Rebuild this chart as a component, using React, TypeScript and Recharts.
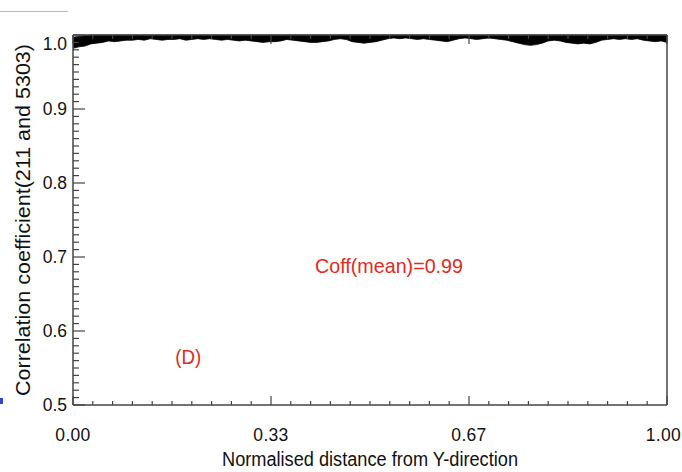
import React from 'react';
import { ComposedChart, Area, XAxis, YAxis, ReferenceDot, Label } from 'recharts';

// normalised distance along the Y-direction
const distance = [
  0.0, 0.01, 0.02, 0.03, 0.04, 0.05, 0.06, 0.07, 0.08, 0.09,
  0.1, 0.11, 0.12, 0.13, 0.14, 0.15, 0.16, 0.17, 0.18, 0.19,
  0.2, 0.21, 0.22, 0.23, 0.24, 0.25, 0.26, 0.27, 0.28, 0.29,
  0.3, 0.31, 0.32, 0.33, 0.34, 0.35, 0.36, 0.37, 0.38, 0.39,
  0.4, 0.41, 0.42, 0.43, 0.44, 0.45, 0.46, 0.47, 0.48, 0.49,
  0.5, 0.51, 0.52, 0.53, 0.54, 0.55, 0.56, 0.57, 0.58, 0.59,
  0.6, 0.61, 0.62, 0.63, 0.64, 0.65, 0.66, 0.67, 0.68, 0.69,
  0.7, 0.71, 0.72, 0.73, 0.74, 0.75, 0.76, 0.77, 0.78, 0.79,
  0.8, 0.81, 0.82, 0.83, 0.84, 0.85, 0.86, 0.87, 0.88, 0.89,
  0.9, 0.91, 0.92, 0.93, 0.94, 0.95, 0.96, 0.97, 0.98, 0.99,
  1.0,
];

// lower / upper edge of the scattered coefficient band
const coeffLow = [
  0.982, 0.984, 0.985, 0.988, 0.989, 0.99, 0.992, 0.991, 0.992, 0.993,
  0.993, 0.994, 0.993, 0.995, 0.994, 0.993, 0.994, 0.994, 0.995, 0.993,
  0.994, 0.995, 0.994, 0.995, 0.994, 0.993, 0.994, 0.993, 0.992, 0.993,
  0.992, 0.991, 0.99, 0.991, 0.991, 0.992, 0.994, 0.993, 0.992, 0.991,
  0.99, 0.99, 0.991, 0.992, 0.994, 0.995, 0.994, 0.991, 0.99, 0.989,
  0.99, 0.991, 0.993, 0.995, 0.996, 0.995, 0.996, 0.995, 0.994, 0.995,
  0.994, 0.993, 0.992, 0.991, 0.993, 0.995, 0.996, 0.995, 0.994, 0.995,
  0.996, 0.995, 0.994, 0.993, 0.991, 0.989, 0.987, 0.986, 0.987, 0.989,
  0.992, 0.993, 0.992, 0.99, 0.989, 0.988, 0.989, 0.988, 0.99, 0.993,
  0.994, 0.995, 0.994, 0.995, 0.994, 0.995, 0.993, 0.992, 0.991, 0.992,
  0.99,
];
const coeffHigh = [
  0.997, 0.998, 0.999, 1.0, 1.0, 1.0, 1.0, 1.0, 1.0, 1.0,
  1.0, 1.0, 1.0, 1.0, 1.0, 1.0, 1.0, 1.0, 1.0, 1.0,
  1.0, 1.0, 1.0, 1.0, 1.0, 1.0, 1.0, 1.0, 1.0, 1.0,
  1.0, 1.0, 1.0, 1.0, 1.0, 1.0, 1.0, 1.0, 1.0, 1.0,
  1.0, 1.0, 1.0, 1.0, 1.0, 1.0, 1.0, 1.0, 1.0, 1.0,
  1.0, 1.0, 1.0, 1.0, 1.0, 1.0, 1.0, 1.0, 1.0, 1.0,
  1.0, 1.0, 1.0, 1.0, 1.0, 1.0, 1.0, 1.0, 1.0, 1.0,
  1.0, 1.0, 1.0, 1.0, 1.0, 1.0, 1.0, 1.0, 1.0, 1.0,
  1.0, 1.0, 1.0, 1.0, 1.0, 1.0, 1.0, 1.0, 1.0, 1.0,
  1.0, 1.0, 1.0, 1.0, 1.0, 1.0, 1.0, 1.0, 1.0, 1.0,
  1.0,
];

const xMajor = [0, 1 / 3, 2 / 3, 1];
const xMajorLabels = ['0.00', '0.33', '0.67', '1.00'];
const yMajor = [0.5, 0.6, 0.7, 0.8, 0.9, 1.0];
const yMajorLabels = ['0.5', '0.6', '0.7', '0.8', '0.9', '1.0'];

const xTicks: number[] = [];
for (let i = 0; i <= 30; i++) xTicks.push(i / 30);
const yTicks: number[] = [];
for (let i = 0; i <= 50; i++) yTicks.push(0.5 + i / 100);

const data = distance.map((d, i) => ({ d, band: [coeffLow[i], coeffHigh[i]] }));

const AXIS = '#444';
const RED = '#e02a22';
const FONT = '"Liberation Sans", Arial, sans-serif';

const majorIdx = (list: number[], v: number) => list.findIndex((m) => Math.abs(m - v) < 1e-6);

const LeftTick = (props: any) => {
  const { x, y, payload } = props;
  const k = majorIdx(yMajor, payload.value);
  const len = k >= 0 ? 12 : 6;
  return (
    <g>
      <line x1={x} x2={x + len} y1={y} y2={y} stroke={AXIS} strokeWidth={1.2} />
      {k >= 0 && (
        <text x={x - 6} y={y + (k === yMajor.length - 1 ? 9 : 0)} dy={6} textAnchor="end"
          fontSize={17.5} fontFamily={FONT} fill="#111">
          {yMajorLabels[k]}
        </text>
      )}
    </g>
  );
};

const RightTick = (props: any) => {
  const { x, y, payload } = props;
  const len = majorIdx(yMajor, payload.value) >= 0 ? 12 : 6;
  return <line x1={x} x2={x - len} y1={y} y2={y} stroke={AXIS} strokeWidth={1.2} />;
};

const BottomTick = (props: any) => {
  const { x, y, payload } = props;
  const k = majorIdx(xMajor, payload.value);
  const len = k >= 0 ? 9 : 4;
  const last = k === xMajor.length - 1;
  return (
    <g>
      <line x1={x} x2={x} y1={y} y2={y - len} stroke={AXIS} strokeWidth={1.2} />
      {k >= 0 && (
        <text x={last ? 681 : x} y={y + 36} textAnchor={last ? 'end' : 'middle'}
          fontSize={17.5} letterSpacing={0.3} fontFamily={FONT} fill="#111">
          {xMajorLabels[k]}
        </text>
      )}
    </g>
  );
};

const TopTick = (props: any) => {
  const { x, y, payload } = props;
  const len = majorIdx(xMajor, payload.value) >= 0 ? 9 : 4;
  return <line x1={x} x2={x} y1={y} y2={y + len} stroke={AXIS} strokeWidth={1.2} />;
};

const YTitle = (props: any) => {
  const vb = props.viewBox;
  const cx = vb.x + 23;
  const cy = vb.y + vb.height / 2;
  return (
    <text x={cx} y={cy} transform={`rotate(-90, ${cx}, ${cy})`} textAnchor="middle"
      dominantBaseline="central" fontSize={20} textLength={352} lengthAdjust="spacingAndGlyphs"
      fontFamily={FONT} fill="#111">
      Correlation coefficient(211 and 5303)
    </text>
  );
};

const XTitle = (props: any) => {
  const vb = props.viewBox;
  return (
    <text x={vb.x + vb.width / 2} y={vb.y + vb.height - 6} textAnchor="middle"
      fontSize={20} textLength={296} lengthAdjust="spacingAndGlyphs" fontFamily={FONT} fill="#111">
      Normalised distance from Y-direction
    </text>
  );
};

const Note = (text: string, width: number) => (props: any) => {
  const vb = props.viewBox;
  const cx = vb.x + (vb.width || 0) / 2;
  const cy = vb.y + (vb.height || 0) / 2;
  return (
    <text x={cx} y={cy} textAnchor="middle" dominantBaseline="central" fontSize={21}
      textLength={width} lengthAdjust="spacingAndGlyphs" fontFamily={FONT} fill={RED}>
      {text}
    </text>
  );
};

const MeanNote = Note('Coff(mean)=0.99', 148);
const PanelNote = Note('(D)', 26);

export default function App() {
  return (
    <div style={{ position: 'absolute', left: 0, top: 0, width: 682, height: 472, background: '#fff' }}>
      <div style={{ position: 'absolute', left: 0, top: 11, width: 68, height: 1, background: '#bbb' }} />
      <div style={{ position: 'absolute', left: 0, top: 398, width: 3, height: 6, background: '#3344cc' }} />
      <ComposedChart width={682} height={472} data={data}
        margin={{ top: 34, right: 14, bottom: 0, left: 0 }}>
        <XAxis xAxisId="bottom" dataKey="d" type="number" domain={[0, 1]} ticks={xTicks}
          orientation="bottom" height={67} tickSize={0} tickMargin={0} tickLine={false}
          axisLine={{ stroke: AXIS, strokeWidth: 1.5 }} tick={<BottomTick />} interval={0}>
          <Label content={<XTitle />} />
        </XAxis>
        <XAxis xAxisId="top" dataKey="d" type="number" domain={[0, 1]} ticks={xTicks}
          orientation="top" height={1} tickSize={0} tickMargin={0} tickLine={false}
          axisLine={{ stroke: AXIS, strokeWidth: 1.5 }} tick={<TopTick />} interval={0} />
        <YAxis yAxisId="left" type="number" domain={[0.5, 1.0]} ticks={yTicks} width={73}
          orientation="left" tickSize={0} tickMargin={0} tickLine={false}
          axisLine={{ stroke: AXIS, strokeWidth: 1.5 }} tick={<LeftTick />} interval={0}>
          <Label content={<YTitle />} />
        </YAxis>
        <YAxis yAxisId="right" type="number" domain={[0.5, 1.0]} ticks={yTicks} width={1}
          orientation="right" tickSize={0} tickMargin={0} tickLine={false}
          axisLine={{ stroke: AXIS, strokeWidth: 1.5 }} tick={<RightTick />} interval={0} />
        <Area xAxisId="bottom" yAxisId="left" type="linear" dataKey="band"
          stroke="#000" strokeWidth={0.8} fill="#000" fillOpacity={1}
          isAnimationActive={false} dot={false} activeDot={false} />
        <ReferenceDot xAxisId="bottom" yAxisId="left" x={0.532} y={0.689} r={0}
          stroke="none" fill="none" label={<MeanNote />} />
        <ReferenceDot xAxisId="bottom" yAxisId="left" x={0.194} y={0.565} r={0}
          stroke="none" fill="none" label={<PanelNote />} />
      </ComposedChart>
    </div>
  );
}
